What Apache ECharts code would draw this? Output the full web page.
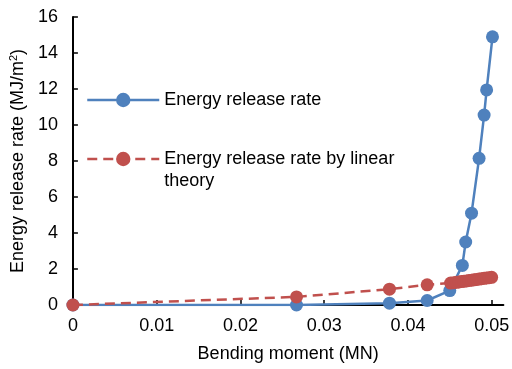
<!DOCTYPE html>
<html>
<head>
<meta charset="utf-8">
<script src="https://cdn.jsdelivr.net/npm/echarts@6/dist/echarts.min.js"></script>
<style>html,body{margin:0;padding:0;background:#fff}#c{width:512px;height:369px}</style>
</head>
<body>
<div id="c"></div>
<script>
const seriesNames = ['Energy release rate', 'Energy release rate by linear theory'];
const xTicks = [0, 0.01, 0.02, 0.03, 0.04, 0.05];
const yTicks = [0, 2, 4, 6, 8, 10, 12, 14, 16];

const blueX = [0, 0.0267, 0.0378, 0.0423, 0.0450, 0.0465, 0.0469, 0.0476, 0.0485, 0.0491, 0.0494, 0.0501];
const blueY = [0, 0.0, 0.1, 0.25, 0.8, 2.2, 3.5, 5.1, 8.15, 10.55, 11.95, 14.9];

const redX = [0, 0.0267, 0.0378, 0.0423, 0.0451, 0.0455, 0.0458, 0.0461, 0.0464, 0.0467, 0.0470, 0.0473, 0.0476, 0.0479, 0.0482, 0.0485, 0.0488, 0.0491, 0.0494, 0.0497, 0.0500];
const redY = [0, 0.45, 0.88, 1.12, 1.22, 1.24, 1.26, 1.28, 1.30, 1.32, 1.34, 1.36, 1.38, 1.40, 1.42, 1.44, 1.46, 1.48, 1.50, 1.52, 1.54];

const FONT = 'Liberation Sans, Arial, sans-serif';
const FS = 18;
const blue = '#4F81BD';
const red = '#C0504D';

const chart = echarts.init(document.getElementById('c'), null, {renderer: 'canvas'});
chart.setOption({
  animation: false,
  grid: {left: 67, right: 3, top: 17, bottom: 64, containLabel: false},
  legend: [
    {
      data: [seriesNames[0]], left: 86, top: 91, orient: 'vertical', padding: 0,
      itemWidth: 72, itemHeight: 18,
      lineStyle: {width: 2.5},
      textStyle: {fontFamily: FONT, fontSize: FS, color: '#000'}
    },
    {
      data: [seriesNames[1]], left: 86, top: 126, orient: 'vertical', padding: 0,
      itemWidth: 72, itemHeight: 18,
      lineStyle: {width: 2.5},
      formatter: function () { return '{a| }\n{a|Energy release rate by linear}\n{a|theory}'; },
      textStyle: {fontFamily: FONT, fontSize: FS, color: '#000', lineHeight: 22,
        rich: {a: {fontFamily: FONT, fontSize: FS, color: '#000', lineHeight: 22}}}
    }
  ],
  xAxis: {
    type: 'value', min: 0, max: 0.0514, interval: 0.01,
    name: 'Bending moment (MN)', nameLocation: 'middle', nameGap: 40,
    nameTextStyle: {fontFamily: FONT, fontSize: FS, color: '#000'},
    axisLine: {show: true, onZero: false, lineStyle: {color: '#000', width: 2}},
    axisTick: {show: true, inside: true, length: 5, customValues: xTicks, lineStyle: {color: '#000', width: 1.5}},
    axisLabel: {margin: 12, customValues: xTicks, fontFamily: FONT, fontSize: FS, color: '#000',
      formatter: function (v) { return String(v); }},
    splitLine: {show: false}
  },
  yAxis: {
    type: 'value', min: 0, max: 16, interval: 2,
    name: 'Energy release rate (MJ/m{sup|2})', nameLocation: 'middle', nameGap: 41,
    nameTextStyle: {fontFamily: FONT, fontSize: FS, color: '#000',
      rich: {sup: {fontFamily: FONT, fontSize: 11, color: '#000', padding: [0, 0, 9, 0]}}},
    axisLine: {show: true, lineStyle: {color: '#000', width: 2}},
    axisTick: {show: true, inside: true, length: 5, lineStyle: {color: '#000', width: 1.5}},
    axisLabel: {margin: 15, fontFamily: FONT, fontSize: FS, color: '#000'},
    splitLine: {show: false}
  },
  series: [
    {
      name: seriesNames[0], type: 'line',
      data: blueX.map((x, i) => [x, blueY[i]]),
      symbol: 'circle', symbolSize: 13, z: 2,
      lineStyle: {color: blue, width: 2.5},
      itemStyle: {color: blue}
    },
    {
      name: seriesNames[1], type: 'line',
      data: redX.map((x, i) => [x, redY[i]]),
      symbol: 'circle', symbolSize: 13, z: 3,
      lineStyle: {color: red, width: 2.5, type: [10, 6]},
      itemStyle: {color: red}
    }
  ]
});
</script>
</body>
</html>
